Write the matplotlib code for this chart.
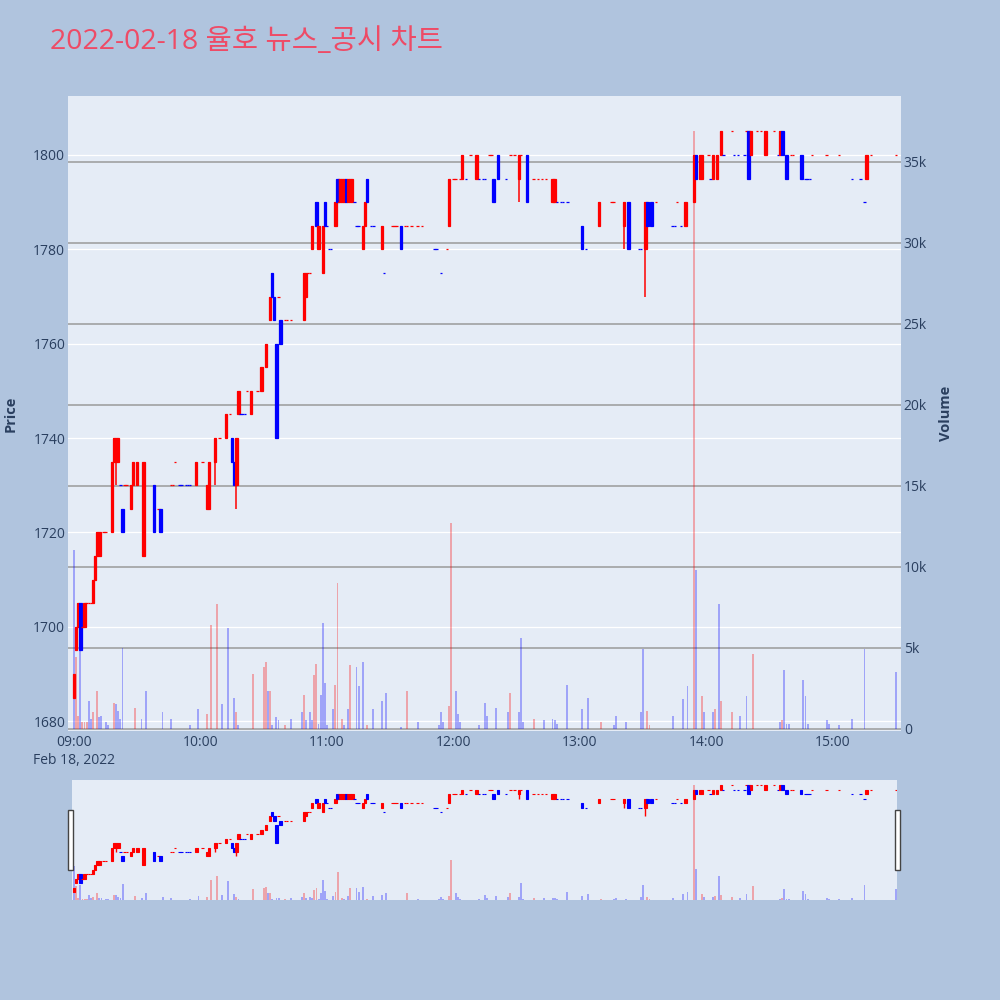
import matplotlib
matplotlib.use('Agg')
import matplotlib.pyplot as plt
import matplotlib.dates as mdates
from matplotlib.patches import Rectangle
import numpy as np
import pandas as pd

plt.rcParams['font.family'] = ['Open Sans', 'Noto Sans CJK KR', 'DejaVu Sans']

day = '2022-02-18'
title = '2022-02-18 율호 뉴스_공시 차트'

# 1-minute candles (time, open, high, low, close)
times = ['09:00', '09:01', '09:02', '09:03', '09:04', '09:05', '09:06', '09:07', '09:08', '09:09',
         '09:10', '09:11', '09:12', '09:14', '09:15', '09:18', '09:19', '09:20', '09:21', '09:22',
         '09:23', '09:24', '09:25', '09:27', '09:28', '09:30', '09:33', '09:38', '09:40', '09:41',
         '09:46', '09:47', '09:48', '09:50', '09:51', '09:53', '09:54', '09:55', '09:58', '10:01',
         '10:03', '10:04', '10:07', '10:09', '10:12', '10:14', '10:15', '10:16', '10:17', '10:18',
         '10:19', '10:20', '10:21', '10:22', '10:24', '10:27', '10:29', '10:31', '10:33', '10:34',
         '10:35', '10:36', '10:37', '10:38', '10:40', '10:41', '10:43', '10:49', '10:50', '10:51',
         '10:52', '10:53', '10:55', '10:56', '10:58', '10:59', '11:00', '11:01', '11:02', '11:04',
         '11:05', '11:06', '11:07', '11:08', '11:09', '11:10', '11:11', '11:12', '11:13', '11:14',
         '11:15', '11:17', '11:18', '11:19', '11:21', '11:22', '11:26', '11:27', '11:31', '11:32',
         '11:33', '11:35', '11:37', '11:38', '11:40', '11:43', '11:45', '11:51', '11:52', '11:54',
         '11:57', '11:58', '12:00', '12:01', '12:03', '12:04', '12:06', '12:08', '12:11', '12:12',
         '12:14', '12:15', '12:17', '12:18', '12:19', '12:21', '12:25', '12:27', '12:29', '12:31',
         '12:32', '12:35', '12:38', '12:40', '12:42', '12:44', '12:47', '12:48', '12:49', '12:51',
         '12:52', '12:54', '13:01', '13:03', '13:09', '13:15', '13:16', '13:21', '13:23', '13:28',
         '13:29', '13:31', '13:32', '13:34', '13:36', '13:44', '13:45', '13:46', '13:48', '13:50',
         '13:54', '13:55', '13:57', '13:58', '14:01', '14:02', '14:03', '14:05', '14:07', '14:08',
         '14:12', '14:13', '14:15', '14:18', '14:19', '14:20', '14:21', '14:24', '14:26', '14:28',
         '14:32', '14:34', '14:35', '14:36', '14:38', '14:40', '14:41', '14:45', '14:47', '14:48',
         '14:49', '14:50', '14:57', '15:03', '15:09', '15:13', '15:15', '15:16', '15:18', '15:30']

opens = [1685, 1695, 1700, 1705, 1700, 1700, 1705, 1705, 1705, 1705,
         1710, 1715, 1715, 1720, 1720, 1720, 1735, 1735, 1735, 1730,
         1725, 1730, 1730, 1725, 1730, 1730, 1715, 1730, 1725, 1725,
         1730, 1730, 1735, 1730, 1730, 1730, 1730, 1730, 1730, 1735,
         1725, 1725, 1735, 1740, 1740, 1745, 1740, 1735, 1730, 1745,
         1745, 1745, 1745, 1750, 1745, 1750, 1750, 1755, 1765, 1775,
         1770, 1760, 1770, 1765, 1765, 1765, 1765, 1765, 1770, 1775,
         1775, 1780, 1790, 1780, 1775, 1790, 1785, 1780, 1780, 1785,
         1795, 1790, 1790, 1790, 1795, 1790, 1790, 1790, 1790, 1785,
         1785, 1780, 1785, 1795, 1785, 1785, 1780, 1775, 1785, 1785,
         1785, 1785, 1785, 1785, 1785, 1785, 1785, 1780, 1780, 1775,
         1780, 1785, 1795, 1795, 1795, 1795, 1795, 1800, 1795, 1795,
         1795, 1795, 1800, 1800, 1795, 1800, 1795, 1800, 1800, 1795,
         1800, 1800, 1795, 1795, 1795, 1795, 1790, 1790, 1790, 1790,
         1790, 1790, 1785, 1780, 1785, 1790, 1790, 1785, 1790, 1780,
         1780, 1780, 1790, 1790, 1790, 1785, 1785, 1790, 1785, 1785,
         1790, 1800, 1795, 1795, 1800, 1795, 1795, 1795, 1800, 1800,
         1805, 1800, 1800, 1800, 1805, 1805, 1800, 1805, 1805, 1800,
         1805, 1800, 1800, 1805, 1800, 1800, 1800, 1800, 1795, 1795,
         1795, 1800, 1800, 1800, 1795, 1795, 1790, 1795, 1800, 1800]

highs = [1690, 1700, 1705, 1705, 1700, 1705, 1705, 1705, 1705, 1710,
         1715, 1720, 1720, 1720, 1720, 1735, 1740, 1740, 1740, 1730,
         1725, 1730, 1730, 1730, 1735, 1735, 1735, 1730, 1725, 1725,
         1730, 1730, 1735, 1730, 1730, 1730, 1730, 1730, 1735, 1735,
         1730, 1735, 1740, 1740, 1745, 1745, 1740, 1735, 1740, 1750,
         1745, 1745, 1745, 1750, 1750, 1750, 1755, 1760, 1770, 1775,
         1770, 1760, 1770, 1765, 1765, 1765, 1765, 1775, 1775, 1775,
         1775, 1785, 1790, 1785, 1785, 1790, 1785, 1780, 1780, 1790,
         1795, 1795, 1795, 1795, 1795, 1795, 1795, 1795, 1790, 1785,
         1785, 1785, 1790, 1795, 1785, 1785, 1785, 1775, 1785, 1785,
         1785, 1785, 1785, 1785, 1785, 1785, 1785, 1780, 1780, 1775,
         1780, 1795, 1795, 1795, 1795, 1800, 1795, 1800, 1800, 1795,
         1795, 1795, 1800, 1800, 1795, 1800, 1795, 1800, 1800, 1800,
         1800, 1800, 1795, 1795, 1795, 1795, 1795, 1795, 1790, 1790,
         1790, 1790, 1785, 1780, 1790, 1790, 1790, 1790, 1790, 1780,
         1780, 1790, 1790, 1790, 1790, 1785, 1785, 1790, 1785, 1790,
         1800, 1800, 1800, 1800, 1800, 1795, 1800, 1800, 1805, 1800,
         1805, 1800, 1800, 1800, 1805, 1805, 1805, 1805, 1805, 1805,
         1805, 1800, 1805, 1805, 1800, 1800, 1800, 1800, 1795, 1795,
         1795, 1800, 1800, 1800, 1795, 1795, 1790, 1800, 1800, 1800]

lows = [1685, 1695, 1700, 1695, 1700, 1700, 1705, 1705, 1705, 1705,
        1710, 1715, 1715, 1720, 1720, 1720, 1735, 1730, 1735, 1730,
        1720, 1730, 1730, 1725, 1730, 1730, 1715, 1720, 1725, 1720,
        1730, 1730, 1735, 1730, 1730, 1730, 1730, 1730, 1730, 1735,
        1725, 1725, 1730, 1740, 1740, 1745, 1735, 1730, 1725, 1745,
        1745, 1745, 1745, 1750, 1745, 1750, 1750, 1755, 1765, 1770,
        1765, 1740, 1770, 1760, 1765, 1765, 1765, 1765, 1770, 1775,
        1775, 1780, 1785, 1780, 1775, 1785, 1785, 1780, 1780, 1785,
        1790, 1790, 1790, 1790, 1790, 1790, 1790, 1790, 1790, 1785,
        1785, 1780, 1785, 1790, 1785, 1785, 1780, 1775, 1785, 1785,
        1785, 1780, 1785, 1785, 1785, 1785, 1785, 1780, 1780, 1775,
        1780, 1785, 1795, 1795, 1795, 1795, 1795, 1800, 1795, 1795,
        1795, 1795, 1800, 1800, 1790, 1795, 1795, 1800, 1800, 1790,
        1800, 1790, 1795, 1795, 1795, 1795, 1790, 1790, 1790, 1790,
        1790, 1790, 1780, 1780, 1785, 1790, 1790, 1780, 1780, 1780,
        1780, 1770, 1785, 1785, 1790, 1785, 1785, 1790, 1785, 1785,
        1790, 1795, 1795, 1795, 1800, 1795, 1795, 1795, 1800, 1800,
        1805, 1800, 1800, 1800, 1805, 1795, 1800, 1805, 1805, 1800,
        1805, 1800, 1800, 1800, 1795, 1800, 1800, 1795, 1795, 1795,
        1795, 1800, 1800, 1800, 1795, 1795, 1790, 1795, 1800, 1800]

closes = [1690, 1700, 1705, 1695, 1700, 1705, 1705, 1705, 1705, 1710,
          1715, 1720, 1720, 1720, 1720, 1735, 1740, 1740, 1740, 1730,
          1720, 1730, 1730, 1730, 1735, 1735, 1735, 1720, 1725, 1720,
          1730, 1730, 1735, 1730, 1730, 1730, 1730, 1730, 1735, 1735,
          1730, 1735, 1740, 1740, 1745, 1745, 1735, 1730, 1740, 1750,
          1745, 1745, 1745, 1750, 1750, 1750, 1755, 1760, 1770, 1770,
          1765, 1740, 1770, 1760, 1765, 1765, 1765, 1775, 1775, 1775,
          1775, 1785, 1785, 1785, 1785, 1785, 1785, 1780, 1780, 1790,
          1790, 1795, 1795, 1795, 1790, 1795, 1795, 1795, 1790, 1785,
          1785, 1785, 1790, 1790, 1785, 1785, 1785, 1775, 1785, 1785,
          1785, 1780, 1785, 1785, 1785, 1785, 1785, 1780, 1780, 1775,
          1780, 1795, 1795, 1795, 1795, 1800, 1795, 1800, 1800, 1795,
          1795, 1795, 1800, 1800, 1790, 1795, 1795, 1800, 1800, 1800,
          1800, 1790, 1795, 1795, 1795, 1795, 1795, 1795, 1790, 1790,
          1790, 1790, 1780, 1780, 1790, 1790, 1790, 1790, 1780, 1780,
          1780, 1790, 1785, 1785, 1790, 1785, 1785, 1790, 1785, 1790,
          1800, 1795, 1800, 1800, 1800, 1795, 1800, 1800, 1805, 1800,
          1805, 1800, 1800, 1800, 1805, 1795, 1805, 1805, 1805, 1805,
          1805, 1800, 1805, 1800, 1795, 1800, 1800, 1795, 1795, 1795,
          1795, 1800, 1800, 1800, 1795, 1795, 1790, 1800, 1800, 1800]

# traded volume per minute and its colour (1 = up/red, 0 = down/blue)
vol_times = ['09:00', '09:01', '09:02', '09:03', '09:04', '09:05', '09:06', '09:07', '09:08', '09:09',
             '09:11', '09:12', '09:13', '09:15', '09:16', '09:19', '09:20', '09:21', '09:22', '09:23',
             '09:29', '09:32', '09:34', '09:42', '09:46', '09:55', '09:59', '10:03', '10:05', '10:08',
             '10:10', '10:13', '10:16', '10:17', '10:18', '10:25', '10:30', '10:31', '10:32', '10:33',
             '10:34', '10:36', '10:37', '10:40', '10:43', '10:48', '10:49', '10:50', '10:52', '10:53',
             '10:54', '10:55', '10:56', '10:57', '10:58', '10:59', '11:00', '11:03', '11:04', '11:05',
             '11:07', '11:08', '11:10', '11:11', '11:14', '11:15', '11:17', '11:19', '11:22', '11:26',
             '11:28', '11:35', '11:38', '11:43', '11:53', '11:54', '11:55', '11:58', '11:59', '12:01',
             '12:02', '12:03', '12:12', '12:15', '12:16', '12:20', '12:26', '12:27', '12:31', '12:32',
             '12:33', '12:38', '12:43', '12:47', '12:48', '12:49', '12:54', '13:01', '13:04', '13:10',
             '13:16', '13:17', '13:22', '13:29', '13:30', '13:32', '13:33', '13:44', '13:49', '13:51',
             '13:54', '13:55', '13:58', '13:59', '14:03', '14:04', '14:06', '14:07', '14:12', '14:16',
             '14:19', '14:22', '14:35', '14:36', '14:37', '14:38', '14:39', '14:46', '14:47', '14:48',
             '14:57', '14:58', '15:03', '15:09', '15:15', '15:30']
volumes = [11000, 4400, 800, 4800, 400, 400, 400, 1700, 600, 1000,
           2300, 700, 800, 400, 200, 1600, 1500, 1100, 600, 5000,
           1300, 600, 2300, 1000, 600, 200, 1200, 900, 6400, 7700,
           1500, 6200, 1900, 1000, 200, 3400, 3800, 4100, 2300, 2300,
           200, 700, 500, 200, 600, 1000, 2100, 500, 1000, 500,
           3300, 4000, 300, 2100, 6500, 2800, 200, 1200, 2700, 9000,
           600, 200, 1200, 3900, 3800, 2600, 4100, 200, 1200, 1700,
           2200, 100, 2300, 400, 200, 1000, 400, 1400, 12700, 2300,
           900, 400, 200, 1600, 800, 1300, 1000, 2200, 1000, 5600,
           400, 600, 500, 600, 500, 300, 2700, 1200, 1900, 400,
           200, 800, 400, 1000, 4900, 1100, 200, 800, 1800, 2600,
           36900, 9800, 2000, 1000, 1000, 1200, 7700, 1700, 1000, 800,
           2000, 4600, 400, 500, 3600, 300, 300, 3000, 2000, 300,
           500, 300, 200, 600, 4900, 3500]
vol_up = [0, 1, 1, 0, 1, 1, 1, 0, 0, 1,
          1, 0, 0, 0, 0, 1, 0, 0, 0, 0,
          1, 0, 0, 0, 0, 0, 0, 1, 1, 1,
          0, 0, 0, 1, 0, 1, 1, 1, 0, 1,
          0, 0, 0, 1, 0, 0, 1, 0, 0, 0,
          1, 1, 0, 0, 0, 0, 0, 0, 1, 1,
          1, 0, 0, 1, 0, 0, 0, 1, 0, 0,
          0, 0, 1, 0, 0, 0, 0, 1, 1, 0,
          0, 0, 0, 0, 0, 0, 0, 1, 0, 0,
          0, 1, 0, 0, 0, 0, 0, 0, 0, 1,
          0, 0, 0, 0, 0, 1, 1, 0, 0, 0,
          1, 0, 1, 0, 0, 1, 0, 1, 1, 0,
          0, 1, 0, 1, 0, 0, 0, 0, 0, 0,
          0, 0, 0, 0, 0, 0]

price_ticks = [1680, 1700, 1720, 1740, 1760, 1780, 1800]
vol_ticks = [0, 5000, 10000, 15000, 20000, 25000, 30000, 35000]
vol_labels = ['0', '5k', '10k', '15k', '20k', '25k', '30k', '35k']
hour_ticks = ['09:00', '10:00', '11:00', '12:00', '13:00', '14:00', '15:00']
hour_labels = ['09:00\nFeb 18, 2022', '10:00', '11:00', '12:00', '13:00', '14:00', '15:00']

# ---- prepare
tx = mdates.date2num(pd.to_datetime([f'{day} {s}' for s in times]))
vx = mdates.date2num(pd.to_datetime([f'{day} {s}' for s in vol_times]))
o = np.array(opens, float)
h = np.array(highs, float)
lo = np.array(lows, float)
c = np.array(closes, float)

UP, DOWN = '#FF0000', '#0000FF'
cols = []
prev_c, prev_up = None, True
for oo, cc in zip(o, c):
    if cc > oo:
        up = True
    elif cc < oo:
        up = False
    elif prev_c is not None and cc != prev_c:
        up = cc > prev_c
    else:
        up = prev_up
    cols.append(UP if up else DOWN)
    prev_c, prev_up = cc, up
vcols = [UP if u else DOWN for u in vol_up]

minute = 1 / 1440.0
TXT = '#2a3f5f'


def draw(ax_v, ax_p, body_w, wick_lw, edge_lw, bar_w):
    ax_v.bar(vx, volumes, width=bar_w * minute, color=vcols, alpha=0.3, linewidth=0)
    ax_p.vlines(tx, lo, h, colors=cols, linewidth=wick_lw)
    ax_p.bar(tx, np.abs(c - o), bottom=np.minimum(o, c), width=body_w * minute,
             color=cols, edgecolor=cols, linewidth=edge_lw)


fig = plt.figure(figsize=(10, 10), dpi=100, facecolor='#B0C4DE')
fig.text(0.05, 0.958, title, fontsize=20.5, color='#EE4B66', va='center', ha='left')

# ---- main panel: three stacked axes (price grid, volume, candles)
rect = [0.068, 0.269, 0.833, 0.635]
ax_bg = fig.add_axes(rect)
ax_v = fig.add_axes(rect, sharex=ax_bg)
ax_p = fig.add_axes(rect, sharex=ax_bg)
ax_bg.set_facecolor('#E5ECF6')
for a in (ax_v, ax_p):
    a.patch.set_alpha(0)
for a in (ax_bg, ax_v, ax_p):
    for s in a.spines.values():
        s.set_visible(False)

p_lim = (1677.9, 1812.5)
ax_bg.set_ylim(*p_lim)
ax_p.set_ylim(*p_lim)
ax_v.set_ylim(-150, 39060)
ax_bg.set_xlim(mdates.date2num(pd.Timestamp(f'{day} 08:57:09')),
               mdates.date2num(pd.Timestamp(f'{day} 15:32:18')))

ax_bg.set_yticks(price_ticks)
ax_bg.yaxis.grid(True, color='white', linewidth=0.9)
ax_bg.xaxis.grid(False)
ax_bg.set_axisbelow(True)
ax_bg.tick_params(axis='y', length=0, pad=2, labelsize=10, labelcolor=TXT)
ax_bg.set_xticks(mdates.date2num(pd.to_datetime([f'{day} {s}' for s in hour_ticks])))
ax_bg.set_xticklabels(hour_labels, linespacing=1.3)
ax_bg.tick_params(axis='x', length=0, pad=3, labelsize=10, labelcolor=TXT)
ax_bg.set_ylabel('Price', fontsize=10.5, fontweight='bold', color=TXT)
ax_bg.yaxis.set_label_coords(-0.061, 0.5)

ax_v.set_yticks(vol_ticks)
ax_v.set_yticklabels(vol_labels)
ax_v.yaxis.tick_right()
ax_v.yaxis.set_label_position('right')
ax_v.yaxis.grid(True, color='#9A9A9A', linewidth=1.1)
ax_v.set_axisbelow(True)
ax_v.tick_params(axis='y', length=0, pad=2, labelsize=10, labelcolor=TXT)
ax_v.tick_params(axis='x', bottom=False, labelbottom=False)
ax_v.set_ylabel('Volume', fontsize=10.5, fontweight='bold', color=TXT)
ax_v.yaxis.set_label_coords(1.046, 0.5)

ax_p.set_yticks([])
ax_p.tick_params(axis='x', bottom=False, labelbottom=False)

draw(ax_v, ax_p, body_w=1.15, wick_lw=1.1, edge_lw=0.9, bar_w=0.9)

# ---- range slider
srect = [0.072, 0.100, 0.825, 0.120]
sb = fig.add_axes(srect)
sv = fig.add_axes(srect, sharex=sb)
sp = fig.add_axes(srect, sharex=sb)
sb.set_facecolor('#E5ECF6')
for a in (sv, sp):
    a.patch.set_alpha(0)
for a in (sb, sv, sp):
    for s in a.spines.values():
        s.set_visible(False)
    a.set_xticks([])
    a.set_yticks([])
sb.set_xlim(mdates.date2num(pd.Timestamp(f'{day} 08:59:00')),
            mdates.date2num(pd.Timestamp(f'{day} 15:30:25')))
sp.set_ylim(1676, 1811)
sv.set_ylim(0, 38500)
draw(sv, sp, body_w=1.15, wick_lw=1.0, edge_lw=0.8, bar_w=0.9)

for hx in (0.068, 0.895):
    fig.patches.append(Rectangle((hx, 0.130), 0.005, 0.060, transform=fig.transFigure,
                                 facecolor='white', edgecolor='#444444', linewidth=1.0))

fig.savefig('out.png', dpi=100, facecolor=fig.get_facecolor())
